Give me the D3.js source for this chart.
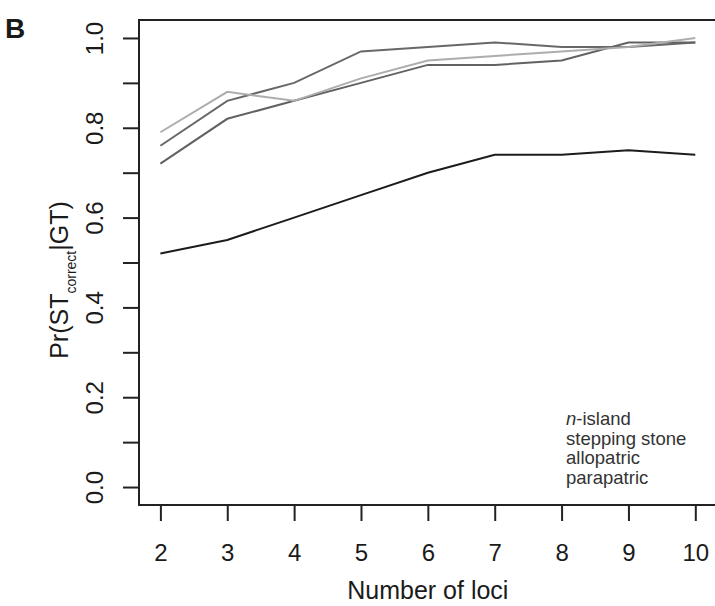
<!DOCTYPE html>
<html>
<head>
<meta charset="utf-8">
<script src="https://cdn.jsdelivr.net/npm/d3@7"></script>
<style>
  body { margin: 0; background: #fff; }
  svg { display: block; font-family: "Liberation Sans", Arial, Helvetica, sans-serif; }
</style>
</head>
<body>
<div id="chart"></div>
<script>
// number of loci on the x axis
const loci = [2, 3, 4, 5, 6, 7, 8, 9, 10];

// Pr(ST correct | GT) per model
const nIsland = [0.52, 0.55, 0.60, 0.65, 0.70, 0.74, 0.74, 0.75, 0.74];
const steppingStone = [0.76, 0.86, 0.90, 0.97, 0.98, 0.99, 0.98, 0.98, 0.99];
const allopatric = [0.72, 0.82, 0.86, 0.90, 0.94, 0.94, 0.95, 0.99, 0.99];
const parapatric = [0.79, 0.88, 0.86, 0.91, 0.95, 0.96, 0.97, 0.98, 1.00];

const legendLabels = ["n-island", "stepping stone", "allopatric", "parapatric"];

const yTicks = [0, 0.1, 0.2, 0.3, 0.4, 0.5, 0.6, 0.7, 0.8, 0.9, 1.0];
const yLabels = ["0.0", "", "0.2", "", "0.4", "", "0.6", "", "0.8", "", "1.0"];

const series = [
  { name: "n-island", values: nIsland, color: "#1c1c1c" },
  { name: "stepping stone", values: steppingStone, color: "#686868" },
  { name: "allopatric", values: allopatric, color: "#626262" },
  { name: "parapatric", values: parapatric, color: "#adadad" }
];

const w = 715, h = 606;
const box = { left: 139, right: 716.7, top: 20, bottom: 505 };

const x = d3.scaleLinear()
  .domain([1.68, 10.32])
  .range([box.left, box.right]);

const y = d3.scaleLinear()
  .domain([-0.04, 1.04])
  .range([box.bottom, box.top]);

const svg = d3.select("#chart")
  .append("svg")
  .attr("width", w)
  .attr("height", h);

// panel letter
svg.append("text")
  .attr("x", 5)
  .attr("y", 37.5)
  .attr("font-size", 28)
  .attr("font-weight", "bold")
  .attr("fill", "#1a1a1a")
  .text("B");

// lines
const line = d3.line()
  .x((d, i) => x(loci[i]))
  .y(d => y(d));

svg.append("g")
  .selectAll("path")
  .data(series)
  .join("path")
    .attr("d", d => line(d.values))
    .attr("fill", "none")
    .attr("stroke", d => d.color)
    .attr("stroke-width", 2);

// x axis
const xAxis = svg.append("g")
  .attr("transform", `translate(0, ${box.bottom})`)
  .call(d3.axisBottom(x).tickValues(loci).tickSize(16).tickFormat(d3.format("d")));

xAxis.select(".domain").remove();
xAxis.selectAll(".tick line").attr("stroke", "#222").attr("stroke-width", 2);
xAxis.selectAll(".tick text")
  .attr("y", 55.7)
  .attr("dy", 0)
  .attr("font-size", 24)
  .attr("fill", "#1a1a1a");

// y axis
const yAxis = svg.append("g")
  .attr("transform", `translate(${box.left}, 0)`)
  .call(d3.axisLeft(y).tickValues(yTicks).tickSize(16).tickFormat((d, i) => yLabels[i]));

yAxis.select(".domain").remove();
yAxis.selectAll(".tick line").attr("stroke", "#222").attr("stroke-width", 2);
yAxis.selectAll(".tick text")
  .attr("transform", "rotate(-90)")
  .attr("x", 0)
  .attr("y", -35.7)
  .attr("dy", 0)
  .attr("text-anchor", "middle")
  .attr("font-size", 24)
  .attr("fill", "#1a1a1a");

// plot box
svg.append("rect")
  .attr("x", box.left)
  .attr("y", box.top)
  .attr("width", box.right - box.left)
  .attr("height", box.bottom - box.top)
  .attr("fill", "none")
  .attr("stroke", "#222")
  .attr("stroke-width", 2);

// axis titles
svg.append("text")
  .attr("x", (x(2) + x(10)) / 2)
  .attr("y", 598.5)
  .attr("text-anchor", "middle")
  .attr("font-size", 25)
  .attr("fill", "#1a1a1a")
  .text("Number of loci");

const yTitle = svg.append("text")
  .attr("transform", "translate(68.3, 280) rotate(-90)")
  .attr("text-anchor", "middle")
  .attr("font-size", 25)
  .attr("fill", "#1a1a1a");
yTitle.append("tspan").text("Pr(ST");
yTitle.append("tspan").attr("font-size", 14).attr("dy", 7.7).text("correct");
yTitle.append("tspan").attr("dy", -7.7).text("|GT)");

// legend (text only)
const legend = svg.append("g")
  .attr("font-size", 18.5)
  .attr("fill", "#333");

legendLabels.forEach((lab, i) => {
  const t = legend.append("text")
    .attr("x", 566)
    .attr("y", 425 + i * 19.5);
  if (lab.startsWith("n-")) {
    t.append("tspan").attr("font-style", "italic").text("n");
    t.append("tspan").text(lab.slice(1));
  } else {
    t.text(lab);
  }
});
</script>
</body>
</html>
